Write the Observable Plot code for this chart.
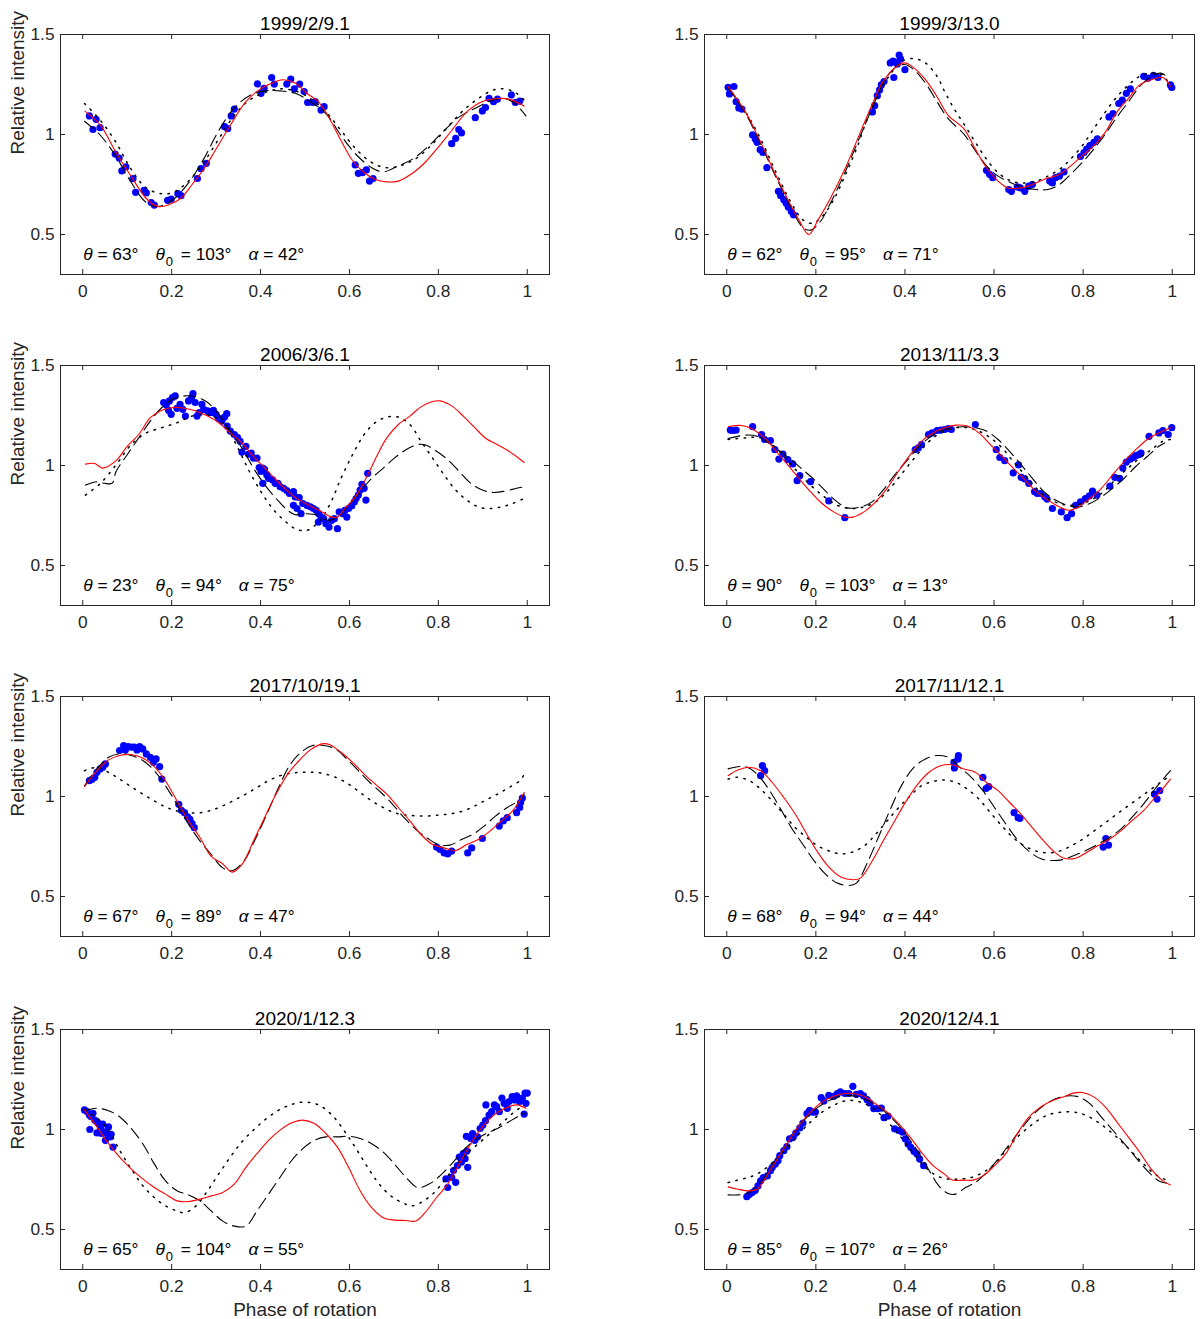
<!DOCTYPE html>
<html>
<head>
<meta charset="utf-8">
<script src="https://cdn.jsdelivr.net/npm/d3@7"></script>
<script src="https://cdn.jsdelivr.net/npm/@observablehq/plot@0.6"></script>
<style>
  body { margin: 0; background: #fff; }
  #chart { position: relative; width: 1200px; height: 1319px; }
  #chart svg { position: absolute; }
</style>
</head>
<body>
<div id="chart"></div>
<script>
// panel titles and model parameters
var titles = ["1999/2/9.1", "1999/3/13.0", "2006/3/6.1", "2013/11/3.3",
              "2017/10/19.1", "2017/11/12.1", "2020/1/12.3", "2020/12/4.1"];
var thetaVals = [63, 62, 23, 90, 67, 68, 65, 85];
var theta0Vals = [103, 95, 94, 103, 89, 94, 104, 107];
var alphaVals = [42, 71, 75, 13, 47, 44, 55, 26];
var xTicks = [0, 0.2, 0.4, 0.6, 0.8, 1];
var yTicks = [0.5, 1, 1.5];

// 1999/2/9.1
var red1 = [[.005,1.117],[.04,1.046],[.075,.91],[.109,.79],[.143,.68],[.169,.64],[.195,.65],[.22,.68],[.246,.75],[.272,.826],[.298,.92],[.332,1.046],[.367,1.164],[.40,1.228],[.435,1.265],[.452,1.274],[.478,1.257],[.504,1.206],[.53,1.164],[.555,1.08],[.581,.97],[.607,.87],[.633,.81],[.658,.775],[.684,.763],[.71,.767],[.744,.81],[.77,.86],[.796,.927],[.83,1.02],[.864,1.113],[.898,1.164],[.933,1.18],[.959,1.177],[.993,1.142]];
var dash1 = [[.004,1.066],[.04,.995],[.075,.89],[.109,.76],[.143,.66],[.169,.64],[.203,.674],[.238,.758],[.272,.877],[.306,1.02],[.341,1.133],[.375,1.194],[.41,1.218],[.444,1.218],[.478,1.206],[.512,1.164],[.547,1.105],[.581,.995],[.615,.90],[.65,.834],[.676,.814],[.71,.843],[.744,.88],[.779,.944],[.813,1.02],[.847,1.088],[.882,1.13],[.916,1.167],[.942,1.18],[.967,1.164],[.997,1.093]];
var dot1 = [[.004,1.155],[.04,1.07],[.075,.96],[.109,.826],[.143,.733],[.178,.704],[.203,.71],[.238,.767],[.272,.86],[.306,.978],[.341,1.096],[.375,1.172],[.41,1.21],[.444,1.228],[.478,1.218],[.512,1.18],[.547,1.113],[.581,1.02],[.615,.927],[.65,.86],[.684,.834],[.718,.846],[.753,.885],[.787,.953],[.821,1.037],[.856,1.12],[.89,1.18],[.924,1.223],[.95,1.228],[.976,1.206],[.993,1.172]];
var obs1 = [[.015,1.093],[.023,1.025],[.030,1.076],[.039,1.034],[.073,.902],[.082,.882],[.088,.818],[.097,.838],[.113,.779],[.119,.711],[.138,.721],[.143,.708],[.154,.660],[.161,.647],[.191,.671],[.199,.677],[.214,.704],[.221,.694],[.258,.780],[.266,.829],[.278,.856],[.319,1.039],[.326,1.029],[.334,1.093],[.341,1.127],[.393,1.253],[.401,1.206],[.408,1.231],[.425,1.285],[.431,1.252],[.459,1.252],[.468,1.277],[.476,1.228],[.488,1.252],[.498,1.215],[.506,1.160],[.517,1.160],[.523,1.164],[.536,1.122],[.543,1.139],[.613,.848],[.620,.806],[.629,.809],[.638,.823],[.645,.767],[.653,.780],[.830,.954],[.839,.981],[.846,1.025],[.852,1.008],[.883,1.084],[.899,1.118],[.906,1.135],[.914,1.181],[.924,1.164],[.933,1.177],[.964,1.198],[.973,1.160],[.983,1.167]];

// 1999/3/13.0
var red2 = [[.003,1.24],[.042,1.113],[.076,.961],[.111,.792],[.145,.64],[.162,.573],[.184,.50],[.205,.573],[.231,.674],[.265,.826],[.30,1.012],[.326,1.147],[.351,1.265],[.377,1.333],[.399,1.358],[.42,1.333],[.446,1.274],[.472,1.189],[.497,1.096],[.532,1.029],[.558,.927],[.583,.834],[.609,.767],[.631,.733],[.661,.733],[.686,.75],[.712,.775],[.747,.801],[.772,.843],[.798,.894],[.824,.944],[.85,1.012],[.876,1.113],[.902,1.181],[.927,1.248],[.953,1.274],[.979,1.285],[.996,1.24]];
var dash2 = [[.003,1.235],[.042,1.105],[.076,.953],[.111,.784],[.145,.632],[.171,.535],[.188,.522],[.21,.564],[.231,.649],[.265,.809],[.30,.995],[.326,1.13],[.351,1.257],[.377,1.333],[.399,1.35],[.42,1.324],[.446,1.257],[.472,1.164],[.497,1.079],[.532,1.003],[.558,.919],[.583,.843],[.609,.792],[.639,.758],[.669,.733],[.695,.725],[.721,.725],[.747,.75],[.772,.801],[.798,.86],[.824,.927],[.85,1.003],[.876,1.088],[.902,1.164],[.927,1.24],[.953,1.291],[.974,1.307],[.987,1.291]];
var dot2 = [[.003,1.235],[.042,1.113],[.076,.978],[.111,.809],[.145,.657],[.171,.573],[.192,.556],[.214,.59],[.24,.674],[.265,.792],[.291,.927],[.317,1.088],[.343,1.215],[.369,1.307],[.394,1.367],[.42,1.38],[.446,1.358],[.472,1.291],[.489,1.215],[.51,1.13],[.532,1.054],[.558,.961],[.583,.877],[.609,.809],[.639,.767],[.669,.758],[.695,.767],[.721,.792],[.747,.826],[.772,.877],[.798,.944],[.824,1.029],[.85,1.113],[.876,1.189],[.902,1.248],[.927,1.291],[.953,1.307],[.979,1.296],[.996,1.24]];
var obs2 = [[.003,1.236],[.006,1.203],[.016,1.240],[.021,1.164],[.027,1.133],[.034,1.127],[.058,.998],[.064,.978],[.068,.961],[.075,.924],[.081,.910],[.090,.834],[.116,.716],[.121,.694],[.128,.674],[.133,.657],[.138,.637],[.145,.615],[.150,.598],[.327,1.113],[.332,1.144],[.338,1.194],[.343,1.223],[.347,1.248],[.353,1.265],[.367,1.358],[.373,1.367],[.377,1.363],[.383,1.353],[.375,1.285],[.387,1.397],[.390,1.378],[.400,1.324],[.583,.821],[.590,.801],[.597,.784],[.633,.725],[.639,.716],[.652,.738],[.659,.733],[.669,.716],[.678,.742],[.686,.750],[.725,.767],[.731,.758],[.738,.784],[.747,.792],[.757,.813],[.794,.890],[.802,.910],[.808,.927],[.815,.944],[.824,.961],[.832,.978],[.858,1.088],[.867,1.105],[.880,1.155],[.888,1.172],[.897,1.206],[.906,1.228],[.936,1.291],[.946,1.282],[.958,1.296],[.968,1.285],[.999,1.235],[.996,1.248]];

// 2006/3/6.1
var red3 = [[.006,1.007],[.027,1.01],[.045,.987],[.075,1.024],[.10,1.096],[.126,1.155],[.152,1.239],[.178,1.276],[.203,1.29],[.229,1.286],[.255,1.273],[.281,1.247],[.306,1.214],[.332,1.163],[.358,1.113],[.384,1.045],[.41,.987],[.435,.928],[.461,.872],[.487,.827],[.512,.798],[.538,.768],[.56,.742],[.573,.742],[.59,.785],[.616,.852],[.641,.953],[.663,1.054],[.684,1.138],[.71,1.205],[.736,1.247],[.761,1.293],[.787,1.32],[.804,1.323],[.83,1.298],[.856,1.247],[.882,1.189],[.907,1.135],[.933,1.104],[.959,1.071],[.993,1.015]];
var dash3 = [[.006,.902],[.032,.919],[.049,.911],[.066,.911],[.075,.97],[.10,1.054],[.126,1.138],[.152,1.222],[.178,1.29],[.203,1.332],[.229,1.348],[.255,1.343],[.281,1.315],[.306,1.256],[.332,1.172],[.358,1.088],[.384,.987],[.41,.902],[.435,.835],[.461,.776],[.478,.754],[.504,.759],[.53,.751],[.551,.726],[.573,.742],[.598,.801],[.624,.869],[.65,.936],[.676,.987],[.701,1.037],[.727,1.079],[.753,1.104],[.77,1.104],[.796,1.071],[.821,1.029],[.847,.97],[.873,.911],[.899,.877],[.924,.865],[.95,.872],[.976,.886],[.993,.894]];
var dot3 = [[.006,.852],[.04,.911],[.075,1.003],[.109,1.104],[.143,1.163],[.178,1.189],[.212,1.214],[.246,1.247],[.272,1.256],[.298,1.239],[.324,1.189],[.349,1.088],[.375,.97],[.401,.869],[.427,.785],[.453,.726],[.478,.684],[.504,.675],[.53,.717],[.555,.801],[.581,.936],[.607,1.054],[.633,1.155],[.658,1.214],[.684,1.242],[.71,1.242],[.736,1.205],[.761,1.121],[.787,1.037],[.813,.953],[.839,.877],[.864,.827],[.89,.793],[.916,.785],[.942,.793],[.967,.81],[.993,.835]];
var obs3 = [[.182,1.315],[.188,1.303],[.195,1.323],[.202,1.340],[.208,1.348],[.193,1.276],[.199,1.256],[.212,1.286],[.219,1.306],[.225,1.281],[.231,1.247],[.238,1.323],[.245,1.340],[.248,1.360],[.253,1.315],[.257,1.247],[.262,1.264],[.268,1.306],[.272,1.281],[.281,1.273],[.288,1.264],[.294,1.276],[.300,1.256],[.306,1.236],[.313,1.222],[.319,1.242],[.324,1.259],[.325,1.197],[.332,1.172],[.341,1.155],[.348,1.141],[.354,1.121],[.358,1.067],[.367,1.096],[.373,1.057],[.379,1.062],[.384,1.037],[.392,1.037],[.397,.990],[.401,.970],[.405,.987],[.409,.981],[.414,.953],[.405,.911],[.418,.936],[.427,.928],[.433,.911],[.439,.911],[.444,.894],[.452,.886],[.459,.875],[.465,.860],[.474,.869],[.478,.843],[.487,.840],[.474,.801],[.482,.785],[.491,.759],[.495,.810],[.504,.801],[.512,.793],[.519,.785],[.525,.776],[.531,.759],[.536,.742],[.542,.734],[.530,.717],[.547,.709],[.554,.692],[.560,.726],[.566,.734],[.573,.684],[.577,.768],[.585,.759],[.590,.776],[.594,.742],[.598,.785],[.605,.798],[.611,.818],[.615,.835],[.620,.852],[.624,.877],[.628,.906],[.633,.886],[.637,.827],[.641,.961]];

// 2013/11/3.3
var red4 = [[.003,1.194],[.034,1.20],[.059,1.18],[.085,1.138],[.111,1.071],[.137,1.003],[.162,.936],[.188,.869],[.214,.81],[.24,.768],[.265,.742],[.283,.742],[.308,.768],[.334,.818],[.36,.886],[.385,.97],[.412,1.054],[.437,1.121],[.463,1.163],[.489,1.189],[.515,1.202],[.54,1.197],[.566,1.163],[.592,1.104],[.618,1.045],[.643,.987],[.669,.928],[.695,.869],[.721,.827],[.747,.793],[.768,.776],[.79,.793],[.815,.835],[.841,.886],[.866,.953],[.892,1.02],[.918,1.079],[.944,1.13],[.97,1.163],[.996,1.189]];
var dash4 = [[.003,1.135],[.042,1.152],[.068,1.146],[.094,1.113],[.119,1.071],[.145,1.029],[.171,.978],[.197,.928],[.223,.869],[.248,.818],[.27,.788],[.30,.793],[.326,.818],[.351,.877],[.377,.953],[.403,1.02],[.429,1.088],[.454,1.138],[.48,1.172],[.506,1.189],[.532,1.194],[.558,1.189],[.583,1.172],[.609,1.13],[.635,1.071],[.661,1.003],[.686,.936],[.712,.869],[.738,.827],[.764,.801],[.79,.793],[.815,.81],[.841,.843],[.866,.886],[.892,.936],[.918,.995],[.944,1.045],[.97,1.096],[.983,1.113]];
var dot4 = [[.003,1.13],[.042,1.138],[.076,1.138],[.111,1.088],[.145,1.003],[.18,.919],[.214,.852],[.248,.801],[.278,.785],[.308,.793],[.334,.818],[.36,.869],[.385,.936],[.412,1.012],[.437,1.079],[.463,1.138],[.489,1.172],[.515,1.189],[.54,1.189],[.566,1.172],[.592,1.138],[.618,1.088],[.643,1.02],[.669,.953],[.695,.886],[.721,.835],[.747,.81],[.772,.801],[.798,.81],[.824,.835],[.85,.877],[.875,.936],[.901,.987],[.927,1.037],[.953,1.079],[.979,1.121],[.996,1.13]];
var obs4 = [[.008,1.177],[.014,1.175],[.021,1.177],[.058,1.194],[.078,1.155],[.085,1.130],[.098,1.125],[.108,1.079],[.117,1.032],[.126,1.057],[.137,1.029],[.148,1.008],[.158,.924],[.164,.949],[.188,.919],[.229,.823],[.265,.739],[.423,1.079],[.430,1.088],[.437,1.104],[.453,1.155],[.461,1.163],[.472,1.175],[.480,1.177],[.489,1.180],[.497,1.185],[.504,1.180],[.558,1.205],[.605,1.079],[.613,1.040],[.624,1.024],[.643,.963],[.655,1.003],[.661,.941],[.669,.933],[.678,.911],[.691,.869],[.697,.860],[.705,.860],[.714,.843],[.719,.832],[.731,.785],[.751,.768],[.764,.739],[.774,.759],[.783,.801],[.794,.818],[.805,.835],[.814,.848],[.821,.872],[.831,.852],[.860,.897],[.871,.941],[.882,.936],[.889,.987],[.897,1.017],[.906,1.032],[.913,1.040],[.918,1.049],[.925,1.054],[.930,1.062],[.948,1.146],[.970,1.163],[.979,1.175],[.991,1.155],[.999,1.189]];

// 2017/10/19.1
var red5 = [[.004,1.049],[.032,1.129],[.058,1.183],[.083,1.205],[.109,1.21],[.135,1.193],[.161,1.149],[.186,1.079],[.212,.978],[.238,.878],[.264,.794],[.289,.701],[.315,.663],[.336,.622],[.358,.659],[.384,.777],[.409,.894],[.435,1.012],[.461,1.112],[.487,1.18],[.512,1.233],[.538,1.263],[.555,1.26],[.581,1.221],[.607,1.171],[.633,1.112],[.658,1.062],[.684,1.012],[.71,.945],[.736,.878],[.761,.81],[.787,.76],[.813,.743],[.839,.73],[.864,.76],[.89,.785],[.916,.827],[.942,.878],[.967,.928],[.993,1.02]];
var dash5 = [[.004,1.054],[.032,1.138],[.058,1.196],[.083,1.213],[.109,1.205],[.135,1.18],[.161,1.129],[.186,1.054],[.212,.961],[.238,.861],[.264,.777],[.289,.71],[.315,.643],[.336,.629],[.362,.676],[.388,.785],[.414,.911],[.439,1.037],[.465,1.154],[.491,1.221],[.517,1.255],[.542,1.255],[.568,1.238],[.594,1.188],[.62,1.129],[.646,1.07],[.671,1.02],[.697,.961],[.723,.894],[.749,.836],[.774,.794],[.80,.76],[.826,.757],[.852,.785],[.877,.81],[.903,.852],[.929,.903],[.955,.945],[.98,.978],[.993,1.012]];
var dot5 = [[.004,1.129],[.032,1.146],[.058,1.121],[.083,1.087],[.109,1.049],[.135,1.012],[.161,.978],[.186,.948],[.212,.928],[.238,.919],[.264,.919],[.289,.931],[.315,.953],[.341,.982],[.367,1.012],[.392,1.045],[.418,1.079],[.444,1.104],[.47,1.117],[.495,1.121],[.521,1.121],[.547,1.112],[.573,1.092],[.598,1.062],[.624,1.02],[.65,.978],[.676,.945],[.701,.919],[.727,.908],[.753,.903],[.779,.903],[.804,.908],[.83,.914],[.856,.928],[.882,.953],[.907,.982],[.933,1.012],[.959,1.045],[.985,1.082],[.993,1.112]];
var obs5 = [[.015,1.079],[.021,1.086],[.027,1.096],[.032,1.121],[.039,1.138],[.045,1.146],[.051,1.163],[.083,1.230],[.092,1.255],[.096,1.233],[.102,1.250],[.109,1.247],[.116,1.247],[.122,1.233],[.128,1.250],[.135,1.238],[.143,1.213],[.152,1.196],[.159,1.171],[.165,1.188],[.173,1.149],[.178,1.087],[.216,.961],[.222,.931],[.229,.919],[.236,.898],[.241,.886],[.246,.864],[.251,.844],[.796,.747],[.804,.735],[.813,.718],[.821,.713],[.830,.727],[.866,.718],[.875,.743],[.899,.790],[.937,.852],[.946,.878],[.955,.894],[.976,.919],[.983,.945],[.989,.992],[.985,.970]];

// 2017/11/12.1
var red6 = [[.003,1.104],[.025,1.133],[.051,1.146],[.076,1.129],[.102,1.07],[.128,.995],[.154,.911],[.18,.81],[.205,.718],[.231,.643],[.257,.596],[.283,.584],[.30,.592],[.326,.676],[.351,.777],[.377,.878],[.403,.978],[.429,1.062],[.454,1.121],[.48,1.154],[.506,1.159],[.532,1.138],[.558,1.121],[.583,1.07],[.609,1.029],[.635,.97],[.661,.911],[.686,.844],[.712,.777],[.738,.718],[.755,.693],[.781,.69],[.806,.718],[.832,.752],[.858,.785],[.884,.827],[.909,.878],[.935,.928],[.961,.995],[.978,1.037],[.996,1.087]];
var dash6 = [[.003,1.138],[.025,1.149],[.046,1.146],[.068,1.112],[.094,1.037],[.119,.945],[.145,.844],[.171,.76],[.197,.676],[.223,.609],[.248,.567],[.274,.555],[.291,.567],[.317,.676],[.343,.81],[.369,.945],[.394,1.062],[.42,1.146],[.446,1.188],[.472,1.205],[.497,1.196],[.523,1.146],[.549,1.096],[.575,1.029],[.601,.945],[.627,.861],[.652,.785],[.678,.727],[.704,.69],[.73,.68],[.755,.685],[.781,.706],[.806,.73],[.832,.76],[.858,.794],[.884,.836],[.909,.894],[.935,.961],[.961,1.037],[.983,1.096],[.996,1.129]];
var dot6 = [[.003,1.087],[.025,1.096],[.051,1.079],[.076,1.037],[.102,.978],[.128,.911],[.154,.844],[.18,.794],[.205,.752],[.231,.727],[.257,.713],[.283,.723],[.308,.752],[.334,.81],[.36,.878],[.386,.945],[.412,1.003],[.437,1.054],[.463,1.075],[.489,1.082],[.515,1.07],[.54,1.037],[.566,.987],[.592,.919],[.618,.852],[.643,.794],[.669,.752],[.695,.727],[.721,.718],[.747,.727],[.772,.752],[.798,.785],[.824,.827],[.85,.869],[.875,.911],[.901,.953],[.927,.995],[.953,1.037],[.979,1.079],[.996,1.104]];
var obs6 = [[.076,1.104],[.080,1.154],[.085,1.129],[.510,1.171],[.519,1.188],[.511,1.143],[.520,1.205],[.575,1.096],[.582,1.040],[.588,1.049],[.645,.919],[.654,.894],[.658,.891],[.845,.747],[.851,.790],[.857,.757],[.960,1.012],[.966,.987],[.972,1.029]];

// 2020/1/12.3
var red7 = [[.004,1.098],[.032,1.013],[.058,.929],[.083,.862],[.109,.803],[.135,.753],[.161,.71],[.186,.677],[.212,.643],[.238,.64],[.264,.652],[.289,.668],[.315,.685],[.341,.727],[.367,.811],[.392,.879],[.418,.946],[.444,.997],[.47,1.034],[.495,1.047],[.521,1.03],[.547,.98],[.573,.912],[.598,.811],[.624,.694],[.65,.609],[.676,.559],[.701,.547],[.727,.545],[.749,.542],[.77,.584],[.796,.66],[.821,.727],[.847,.828],[.873,.929],[.899,1.013],[.925,1.072],[.95,1.106],[.976,1.123],[.997,1.106]];
var dash7 = [[.004,1.094],[.032,1.106],[.058,1.094],[.083,1.064],[.109,1.005],[.135,.929],[.161,.828],[.186,.744],[.212,.694],[.238,.673],[.264,.643],[.289,.593],[.315,.542],[.341,.517],[.367,.517],[.392,.593],[.418,.677],[.444,.761],[.47,.845],[.495,.904],[.521,.946],[.547,.963],[.573,.963],[.598,.966],[.624,.955],[.65,.929],[.676,.887],[.701,.828],[.727,.761],[.753,.71],[.779,.727],[.804,.769],[.83,.828],[.856,.896],[.882,.946],[.907,.98],[.933,1.005],[.959,1.039],[.985,1.072],[.997,1.084]];
var dot7 = [[.004,1.098],[.032,1.056],[.058,.997],[.083,.896],[.109,.803],[.135,.719],[.161,.66],[.186,.618],[.212,.593],[.229,.584],[.255,.618],[.281,.694],[.306,.778],[.332,.862],[.358,.938],[.384,.997],[.409,1.047],[.435,1.089],[.461,1.118],[.487,1.135],[.512,1.135],[.538,1.114],[.564,1.064],[.59,.988],[.615,.904],[.641,.811],[.667,.727],[.693,.668],[.718,.635],[.74,.618],[.761,.635],[.787,.677],[.813,.744],[.839,.82],[.864,.879],[.89,.929],[.916,.98],[.942,1.03],[.967,1.081],[.993,1.123]];
var obs7 = [[.004,1.098],[.010,1.089],[.015,1.072],[.019,1.064],[.023,1.081],[.027,1.047],[.032,1.039],[.016,1.000],[.036,1.030],[.040,1.005],[.045,1.027],[.049,.988],[.053,.980],[.062,.963],[.058,1.013],[.064,.976],[.068,.912],[.032,.983],[.042,.980],[.051,.946],[.817,.753],[.821,.710],[.830,.761],[.834,.795],[.839,.736],[.843,.820],[.847,.862],[.852,.837],[.856,.879],[.860,.854],[.864,.892],[.866,.811],[.863,.966],[.873,.955],[.877,.980],[.882,.946],[.888,.963],[.894,1.005],[.900,1.022],[.906,1.044],[.907,1.123],[.914,1.072],[.920,1.089],[.926,1.123],[.931,1.114],[.937,1.089],[.943,1.157],[.948,1.131],[.955,1.106],[.959,1.140],[.966,1.165],[.972,1.148],[.976,1.168],[.983,1.140],[.989,1.157],[.993,1.077],[.995,1.182],[.997,1.131],[1.000,1.182]];

// 2020/12/4.1
var red8 = [[.003,.713],[.025,.701],[.051,.693],[.068,.701],[.085,.752],[.111,.844],[.137,.936],[.162,1.02],[.188,1.087],[.214,1.138],[.24,1.166],[.265,1.18],[.283,1.18],[.308,1.166],[.334,1.129],[.36,1.087],[.386,1.029],[.412,.961],[.437,.886],[.463,.819],[.489,.777],[.506,.747],[.532,.747],[.553,.747],[.575,.768],[.601,.819],[.626,.878],[.652,.978],[.678,1.062],[.704,1.112],[.729,1.143],[.755,1.163],[.781,1.183],[.798,1.185],[.824,1.163],[.85,1.112],[.876,1.037],[.902,.961],[.927,.886],[.953,.802],[.979,.743],[.996,.723]];
var dash8 = [[.003,.673],[.025,.673],[.051,.685],[.076,.735],[.102,.819],[.128,.903],[.154,.995],[.18,1.062],[.205,1.112],[.231,1.146],[.257,1.166],[.283,1.168],[.308,1.154],[.334,1.121],[.36,1.079],[.386,1.02],[.412,.945],[.437,.861],[.459,.777],[.476,.718],[.497,.68],[.514,.677],[.536,.71],[.558,.735],[.583,.785],[.609,.852],[.635,.928],[.661,1.003],[.686,1.07],[.712,1.121],[.738,1.154],[.764,1.168],[.79,1.163],[.815,1.129],[.841,1.062],[.867,.995],[.893,.928],[.918,.861],[.944,.794],[.97,.743],[.991,.73]];
var dot8 = [[.003,.735],[.034,.752],[.059,.768],[.085,.802],[.111,.852],[.137,.911],[.162,.978],[.188,1.037],[.214,1.087],[.24,1.121],[.265,1.143],[.291,1.143],[.317,1.121],[.343,1.079],[.369,1.02],[.394,.953],[.42,.878],[.446,.81],[.472,.768],[.497,.752],[.523,.752],[.549,.76],[.575,.785],[.601,.827],[.626,.894],[.652,.961],[.678,1.012],[.704,1.054],[.729,1.079],[.755,1.087],[.781,1.087],[.807,1.07],[.833,1.037],[.858,.995],[.884,.945],[.91,.886],[.936,.827],[.961,.777],[.987,.747],[.996,.74]];
var obs8 = [[.045,.664],[.051,.676],[.057,.685],[.064,.696],[.070,.718],[.076,.743],[.082,.760],[.091,.768],[.098,.794],[.102,.810],[.109,.827],[.115,.844],[.119,.869],[.128,.894],[.135,.914],[.141,.953],[.149,.961],[.155,.982],[.164,1.008],[.171,1.032],[.180,1.079],[.186,1.096],[.192,1.087],[.199,1.087],[.212,1.159],[.218,1.143],[.229,1.171],[.240,1.166],[.248,1.180],[.255,1.188],[.265,1.180],[.274,1.180],[.283,1.216],[.291,1.176],[.300,1.180],[.307,1.168],[.315,1.149],[.321,1.133],[.330,1.104],[.338,1.104],[.347,1.107],[.353,1.059],[.362,1.067],[.377,1.003],[.386,.995],[.394,.987],[.401,.953],[.407,.928],[.413,.911],[.420,.891],[.427,.878],[.433,.852],[.442,.819]];

var reds = [red1, red2, red3, red4, red5, red6, red7, red8];
var dashes = [dash1, dash2, dash3, dash4, dash5, dash6, dash7, dash8];
var dots = [dot1, dot2, dot3, dot4, dot5, dot6, dot7, dot8];
var observed = [obs1, obs2, obs3, obs4, obs5, obs6, obs7, obs8];

var FONT = "'Liberation Sans', Arial, Helvetica, sans-serif";
var AXIS = "#262626";
var BOX_H = 240;
var svgTops = [0, 331, 662, 995];

function px(d) { return d[0]; }
function py(d) { return d[1]; }
function same(d) { return d; }

function renderPanel(i) {
    var container = document.getElementById("chart");
    var col = i % 2, row = Math.floor(i / 2);
    var ml = col ? 104 : 60, mr = col ? 6 : 51;
    var boxW = 600 - ml - mr;
    var last = row === 3;

    var marks = [
        Plot.dot(observed[i], {x: px, y: py, r: 3.6, fill: "#0000ff", stroke: null}),
        Plot.line(dots[i], {x: px, y: py, stroke: "black", strokeWidth: 1.5, strokeDasharray: "1.5,6.5", curve: "catmull-rom"}),
        Plot.line(dashes[i], {x: px, y: py, stroke: "black", strokeWidth: 1.1, strokeDasharray: "12,6", curve: "catmull-rom"}),
        Plot.line(reds[i], {x: px, y: py, stroke: "#ff0000", strokeWidth: 1.1, curve: "catmull-rom"}),
        Plot.frame({stroke: AXIS, strokeWidth: 1}),
        // inward ticks on all four sides
        Plot.tickX(xTicks, {x: same, insetTop: BOX_H - 5, stroke: AXIS}),
        Plot.tickX(xTicks, {x: same, insetBottom: BOX_H - 5, stroke: AXIS}),
        Plot.tickY(yTicks, {y: same, insetRight: boxW - 5, stroke: AXIS}),
        Plot.tickY(yTicks, {y: same, insetLeft: boxW - 5, stroke: AXIS}),
        Plot.axisX({ticks: xTicks, tickSize: 0, tickPadding: 10, tickFormat: String, label: null}),
        Plot.axisY({ticks: yTicks, tickSize: 0, tickPadding: 6, tickFormat: String, label: null}),
        Plot.text([titles[i]], {text: same, frameAnchor: "top", dy: -18, fontSize: 19, fill: "black"})
    ];
    if (col === 0) {
        marks.push(Plot.text(["Relative intensity"], {text: same, frameAnchor: "left", dx: -43, rotate: -90, fontSize: 19, fill: AXIS}));
    }
    if (last) {
        marks.push(Plot.text(["Phase of rotation"], {text: same, frameAnchor: "bottom", lineAnchor: "top", dy: 33, fontSize: 19, fill: AXIS}));
    }

    var plot = Plot.plot({
        width: 600,
        height: last ? 324 : 320,
        marginLeft: ml,
        marginRight: mr,
        marginTop: 34,
        marginBottom: last ? 50 : 46,
        x: {domain: [-0.05, 1.05]},
        y: {domain: [0.3, 1.5]},
        style: {fontFamily: FONT, fontSize: "17.3px", color: AXIS, background: "white", overflow: "visible"},
        marks: marks
    });

    plot.style.left = (col * 600) + "px";
    plot.style.top = svgTops[row] + "px";
    container.appendChild(plot);

    // parameter annotation inside the box
    var sx = plot.scale("x"), sy = plot.scale("y");
    var t = d3.select(plot).append("text")
        .attr("x", sx.apply(0) + 1)
        .attr("y", sy.apply(0.3) - 14.5)
        .attr("text-anchor", "start")
        .attr("font-family", FONT)
        .attr("font-size", 17.3)
        .attr("fill", "black")
        .style("white-space", "pre");
    t.append("tspan").attr("font-style", "italic").text("\u03b8");
    t.append("tspan").text(" = " + thetaVals[i] + "\u00b0");
    t.append("tspan").attr("dx", 17).attr("font-style", "italic").text("\u03b8");
    t.append("tspan").attr("font-size", 13).attr("dx", 1).attr("dy", 6.7).text("0");
    t.append("tspan").attr("dx", 3).attr("dy", -6.7).text(" = " + theta0Vals[i] + "\u00b0");
    t.append("tspan").attr("dx", 17).attr("font-style", "italic").text("\u03b1");
    t.append("tspan").text(" = " + alphaVals[i] + "\u00b0");
}

for (var i = 0; i < 8; i++) {
    try {
        renderPanel(i);
    } catch (error) {
        console.error("[renderPanel] Error creating panel " + i + ":", error);
    }
}
</script>
</body>
</html>
